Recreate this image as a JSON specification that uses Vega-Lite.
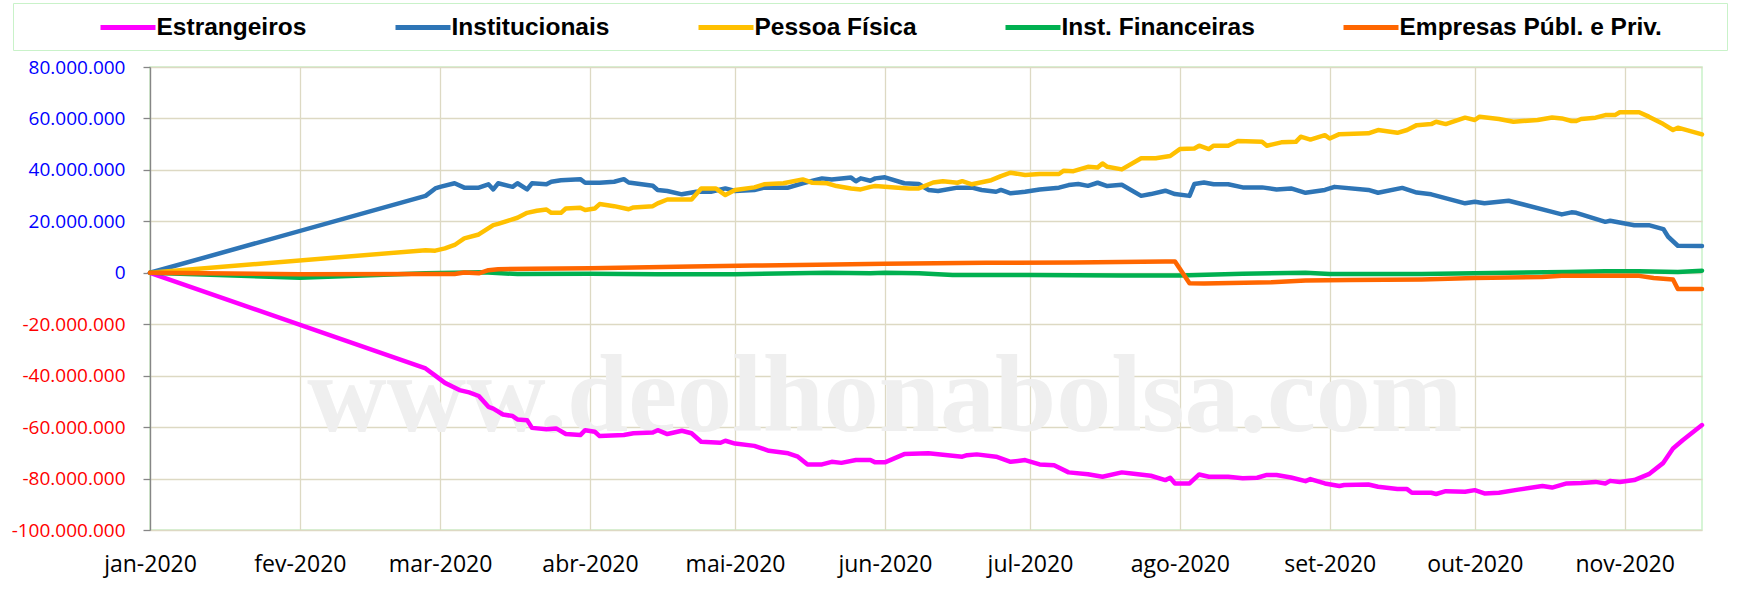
{
  "$schema": "https://vega.github.io/schema/vega-lite/v6.json",
  "width": 1552,
  "height": 463,
  "autosize": {"type": "none"},
  "padding": {"left": 150, "top": 67, "right": 40, "bottom": 59},
  "background": "white",
  "config": {
    "view": {"stroke": "#c9f2c9", "strokeWidth": 1.5},
    "font": "Open Sans"
  },
  "datasets": {
    "wm": [{"d": "2020-06-01", "v": -61500000, "t": "www.deolhonabolsa.com"}],
    "lines": [
      {"d": "2020-01-01", "s": "Estrangeiros", "v": 0},
      {"d": "2020-02-27", "s": "Estrangeiros", "v": -37200000},
      {"d": "2020-02-29", "s": "Estrangeiros", "v": -40000000},
      {"d": "2020-03-02", "s": "Estrangeiros", "v": -42800000},
      {"d": "2020-03-05", "s": "Estrangeiros", "v": -45600000},
      {"d": "2020-03-07", "s": "Estrangeiros", "v": -46500000},
      {"d": "2020-03-09", "s": "Estrangeiros", "v": -47900000},
      {"d": "2020-03-11", "s": "Estrangeiros", "v": -52100000},
      {"d": "2020-03-12", "s": "Estrangeiros", "v": -52800000},
      {"d": "2020-03-14", "s": "Estrangeiros", "v": -55100000},
      {"d": "2020-03-16", "s": "Estrangeiros", "v": -55700000},
      {"d": "2020-03-17", "s": "Estrangeiros", "v": -57000000},
      {"d": "2020-03-19", "s": "Estrangeiros", "v": -57300000},
      {"d": "2020-03-20", "s": "Estrangeiros", "v": -60300000},
      {"d": "2020-03-23", "s": "Estrangeiros", "v": -60800000},
      {"d": "2020-03-25", "s": "Estrangeiros", "v": -60500000},
      {"d": "2020-03-27", "s": "Estrangeiros", "v": -62700000},
      {"d": "2020-03-30", "s": "Estrangeiros", "v": -63100000},
      {"d": "2020-03-31", "s": "Estrangeiros", "v": -61200000},
      {"d": "2020-04-02", "s": "Estrangeiros", "v": -61800000},
      {"d": "2020-04-03", "s": "Estrangeiros", "v": -63500000},
      {"d": "2020-04-08", "s": "Estrangeiros", "v": -63100000},
      {"d": "2020-04-10", "s": "Estrangeiros", "v": -62400000},
      {"d": "2020-04-14", "s": "Estrangeiros", "v": -62100000},
      {"d": "2020-04-15", "s": "Estrangeiros", "v": -61200000},
      {"d": "2020-04-17", "s": "Estrangeiros", "v": -62700000},
      {"d": "2020-04-20", "s": "Estrangeiros", "v": -61400000},
      {"d": "2020-04-22", "s": "Estrangeiros", "v": -62400000},
      {"d": "2020-04-24", "s": "Estrangeiros", "v": -65700000},
      {"d": "2020-04-28", "s": "Estrangeiros", "v": -66100000},
      {"d": "2020-04-29", "s": "Estrangeiros", "v": -65300000},
      {"d": "2020-05-01", "s": "Estrangeiros", "v": -66400000},
      {"d": "2020-05-05", "s": "Estrangeiros", "v": -67300000},
      {"d": "2020-05-08", "s": "Estrangeiros", "v": -69200000},
      {"d": "2020-05-12", "s": "Estrangeiros", "v": -70200000},
      {"d": "2020-05-14", "s": "Estrangeiros", "v": -71500000},
      {"d": "2020-05-16", "s": "Estrangeiros", "v": -74500000},
      {"d": "2020-05-19", "s": "Estrangeiros", "v": -74500000},
      {"d": "2020-05-21", "s": "Estrangeiros", "v": -73500000},
      {"d": "2020-05-23", "s": "Estrangeiros", "v": -73900000},
      {"d": "2020-05-26", "s": "Estrangeiros", "v": -72800000},
      {"d": "2020-05-29", "s": "Estrangeiros", "v": -72800000},
      {"d": "2020-05-30", "s": "Estrangeiros", "v": -73700000},
      {"d": "2020-06-01", "s": "Estrangeiros", "v": -73700000},
      {"d": "2020-06-05", "s": "Estrangeiros", "v": -70500000},
      {"d": "2020-06-10", "s": "Estrangeiros", "v": -70200000},
      {"d": "2020-06-17", "s": "Estrangeiros", "v": -71500000},
      {"d": "2020-06-18", "s": "Estrangeiros", "v": -70900000},
      {"d": "2020-06-20", "s": "Estrangeiros", "v": -70600000},
      {"d": "2020-06-24", "s": "Estrangeiros", "v": -71500000},
      {"d": "2020-06-27", "s": "Estrangeiros", "v": -73500000},
      {"d": "2020-06-30", "s": "Estrangeiros", "v": -72800000},
      {"d": "2020-07-03", "s": "Estrangeiros", "v": -74500000},
      {"d": "2020-07-06", "s": "Estrangeiros", "v": -74800000},
      {"d": "2020-07-09", "s": "Estrangeiros", "v": -77600000},
      {"d": "2020-07-13", "s": "Estrangeiros", "v": -78300000},
      {"d": "2020-07-16", "s": "Estrangeiros", "v": -79300000},
      {"d": "2020-07-20", "s": "Estrangeiros", "v": -77600000},
      {"d": "2020-07-22", "s": "Estrangeiros", "v": -78000000},
      {"d": "2020-07-26", "s": "Estrangeiros", "v": -78900000},
      {"d": "2020-07-29", "s": "Estrangeiros", "v": -80600000},
      {"d": "2020-07-30", "s": "Estrangeiros", "v": -79700000},
      {"d": "2020-07-31", "s": "Estrangeiros", "v": -81900000},
      {"d": "2020-08-03", "s": "Estrangeiros", "v": -81900000},
      {"d": "2020-08-05", "s": "Estrangeiros", "v": -78400000},
      {"d": "2020-08-07", "s": "Estrangeiros", "v": -79300000},
      {"d": "2020-08-11", "s": "Estrangeiros", "v": -79300000},
      {"d": "2020-08-14", "s": "Estrangeiros", "v": -79900000},
      {"d": "2020-08-17", "s": "Estrangeiros", "v": -79700000},
      {"d": "2020-08-19", "s": "Estrangeiros", "v": -78600000},
      {"d": "2020-08-21", "s": "Estrangeiros", "v": -78600000},
      {"d": "2020-08-24", "s": "Estrangeiros", "v": -79600000},
      {"d": "2020-08-27", "s": "Estrangeiros", "v": -81000000},
      {"d": "2020-08-28", "s": "Estrangeiros", "v": -80200000},
      {"d": "2020-08-31", "s": "Estrangeiros", "v": -81900000},
      {"d": "2020-09-03", "s": "Estrangeiros", "v": -82900000},
      {"d": "2020-09-04", "s": "Estrangeiros", "v": -82500000},
      {"d": "2020-09-09", "s": "Estrangeiros", "v": -82300000},
      {"d": "2020-09-11", "s": "Estrangeiros", "v": -83200000},
      {"d": "2020-09-15", "s": "Estrangeiros", "v": -84100000},
      {"d": "2020-09-17", "s": "Estrangeiros", "v": -84100000},
      {"d": "2020-09-18", "s": "Estrangeiros", "v": -85500000},
      {"d": "2020-09-22", "s": "Estrangeiros", "v": -85500000},
      {"d": "2020-09-23", "s": "Estrangeiros", "v": -86000000},
      {"d": "2020-09-25", "s": "Estrangeiros", "v": -84900000},
      {"d": "2020-09-29", "s": "Estrangeiros", "v": -85100000},
      {"d": "2020-10-01", "s": "Estrangeiros", "v": -84500000},
      {"d": "2020-10-03", "s": "Estrangeiros", "v": -85800000},
      {"d": "2020-10-06", "s": "Estrangeiros", "v": -85500000},
      {"d": "2020-10-10", "s": "Estrangeiros", "v": -84300000},
      {"d": "2020-10-15", "s": "Estrangeiros", "v": -82900000},
      {"d": "2020-10-17", "s": "Estrangeiros", "v": -83500000},
      {"d": "2020-10-20", "s": "Estrangeiros", "v": -81900000},
      {"d": "2020-10-23", "s": "Estrangeiros", "v": -81700000},
      {"d": "2020-10-26", "s": "Estrangeiros", "v": -81300000},
      {"d": "2020-10-28", "s": "Estrangeiros", "v": -81900000},
      {"d": "2020-10-29", "s": "Estrangeiros", "v": -80900000},
      {"d": "2020-10-31", "s": "Estrangeiros", "v": -81300000},
      {"d": "2020-11-03", "s": "Estrangeiros", "v": -80600000},
      {"d": "2020-11-06", "s": "Estrangeiros", "v": -78300000},
      {"d": "2020-11-09", "s": "Estrangeiros", "v": -73900000},
      {"d": "2020-11-11", "s": "Estrangeiros", "v": -68300000},
      {"d": "2020-11-13", "s": "Estrangeiros", "v": -65100000},
      {"d": "2020-11-17", "s": "Estrangeiros", "v": -59200000},

      {"d": "2020-01-01", "s": "Institucionais", "v": 0},
      {"d": "2020-02-27", "s": "Institucionais", "v": 29900000},
      {"d": "2020-02-29", "s": "Institucionais", "v": 32800000},
      {"d": "2020-03-01", "s": "Institucionais", "v": 33400000},
      {"d": "2020-03-04", "s": "Institucionais", "v": 34800000},
      {"d": "2020-03-06", "s": "Institucionais", "v": 33100000},
      {"d": "2020-03-09", "s": "Institucionais", "v": 33100000},
      {"d": "2020-03-11", "s": "Institucionais", "v": 34400000},
      {"d": "2020-03-12", "s": "Institucionais", "v": 32400000},
      {"d": "2020-03-13", "s": "Institucionais", "v": 34800000},
      {"d": "2020-03-16", "s": "Institucionais", "v": 33400000},
      {"d": "2020-03-17", "s": "Institucionais", "v": 34800000},
      {"d": "2020-03-19", "s": "Institucionais", "v": 32400000},
      {"d": "2020-03-20", "s": "Institucionais", "v": 34800000},
      {"d": "2020-03-23", "s": "Institucionais", "v": 34400000},
      {"d": "2020-03-24", "s": "Institucionais", "v": 35400000},
      {"d": "2020-03-26", "s": "Institucionais", "v": 36000000},
      {"d": "2020-03-30", "s": "Institucionais", "v": 36400000},
      {"d": "2020-03-31", "s": "Institucionais", "v": 35000000},
      {"d": "2020-04-03", "s": "Institucionais", "v": 35000000},
      {"d": "2020-04-06", "s": "Institucionais", "v": 35400000},
      {"d": "2020-04-08", "s": "Institucionais", "v": 36400000},
      {"d": "2020-04-09", "s": "Institucionais", "v": 35100000},
      {"d": "2020-04-14", "s": "Institucionais", "v": 33800000},
      {"d": "2020-04-15", "s": "Institucionais", "v": 32200000},
      {"d": "2020-04-17", "s": "Institucionais", "v": 31800000},
      {"d": "2020-04-20", "s": "Institucionais", "v": 30500000},
      {"d": "2020-04-23", "s": "Institucionais", "v": 31500000},
      {"d": "2020-04-26", "s": "Institucionais", "v": 31500000},
      {"d": "2020-04-29", "s": "Institucionais", "v": 32800000},
      {"d": "2020-05-01", "s": "Institucionais", "v": 31800000},
      {"d": "2020-05-05", "s": "Institucionais", "v": 32200000},
      {"d": "2020-05-07", "s": "Institucionais", "v": 33100000},
      {"d": "2020-05-12", "s": "Institucionais", "v": 33100000},
      {"d": "2020-05-15", "s": "Institucionais", "v": 34800000},
      {"d": "2020-05-19", "s": "Institucionais", "v": 36700000},
      {"d": "2020-05-21", "s": "Institucionais", "v": 36300000},
      {"d": "2020-05-25", "s": "Institucionais", "v": 37000000},
      {"d": "2020-05-26", "s": "Institucionais", "v": 35600000},
      {"d": "2020-05-27", "s": "Institucionais", "v": 36700000},
      {"d": "2020-05-29", "s": "Institucionais", "v": 35800000},
      {"d": "2020-05-30", "s": "Institucionais", "v": 36700000},
      {"d": "2020-06-01", "s": "Institucionais", "v": 37100000},
      {"d": "2020-06-05", "s": "Institucionais", "v": 34800000},
      {"d": "2020-06-08", "s": "Institucionais", "v": 34500000},
      {"d": "2020-06-10", "s": "Institucionais", "v": 32200000},
      {"d": "2020-06-12", "s": "Institucionais", "v": 31800000},
      {"d": "2020-06-16", "s": "Institucionais", "v": 33100000},
      {"d": "2020-06-19", "s": "Institucionais", "v": 33100000},
      {"d": "2020-06-21", "s": "Institucionais", "v": 32200000},
      {"d": "2020-06-24", "s": "Institucionais", "v": 31500000},
      {"d": "2020-06-25", "s": "Institucionais", "v": 32200000},
      {"d": "2020-06-27", "s": "Institucionais", "v": 30900000},
      {"d": "2020-06-30", "s": "Institucionais", "v": 31500000},
      {"d": "2020-07-03", "s": "Institucionais", "v": 32400000},
      {"d": "2020-07-07", "s": "Institucionais", "v": 33100000},
      {"d": "2020-07-09", "s": "Institucionais", "v": 34100000},
      {"d": "2020-07-11", "s": "Institucionais", "v": 34500000},
      {"d": "2020-07-13", "s": "Institucionais", "v": 33800000},
      {"d": "2020-07-15", "s": "Institucionais", "v": 35000000},
      {"d": "2020-07-17", "s": "Institucionais", "v": 33700000},
      {"d": "2020-07-20", "s": "Institucionais", "v": 34200000},
      {"d": "2020-07-24", "s": "Institucionais", "v": 29900000},
      {"d": "2020-07-26", "s": "Institucionais", "v": 30600000},
      {"d": "2020-07-29", "s": "Institucionais", "v": 31900000},
      {"d": "2020-07-31", "s": "Institucionais", "v": 30600000},
      {"d": "2020-08-03", "s": "Institucionais", "v": 29900000},
      {"d": "2020-08-04", "s": "Institucionais", "v": 34500000},
      {"d": "2020-08-06", "s": "Institucionais", "v": 35100000},
      {"d": "2020-08-08", "s": "Institucionais", "v": 34400000},
      {"d": "2020-08-11", "s": "Institucionais", "v": 34400000},
      {"d": "2020-08-14", "s": "Institucionais", "v": 33200000},
      {"d": "2020-08-18", "s": "Institucionais", "v": 33200000},
      {"d": "2020-08-21", "s": "Institucionais", "v": 32400000},
      {"d": "2020-08-24", "s": "Institucionais", "v": 32800000},
      {"d": "2020-08-27", "s": "Institucionais", "v": 31100000},
      {"d": "2020-08-31", "s": "Institucionais", "v": 32200000},
      {"d": "2020-09-02", "s": "Institucionais", "v": 33400000},
      {"d": "2020-09-09", "s": "Institucionais", "v": 32200000},
      {"d": "2020-09-11", "s": "Institucionais", "v": 31100000},
      {"d": "2020-09-16", "s": "Institucionais", "v": 33000000},
      {"d": "2020-09-19", "s": "Institucionais", "v": 31200000},
      {"d": "2020-09-22", "s": "Institucionais", "v": 30500000},
      {"d": "2020-09-29", "s": "Institucionais", "v": 27000000},
      {"d": "2020-10-01", "s": "Institucionais", "v": 27600000},
      {"d": "2020-10-03", "s": "Institucionais", "v": 27000000},
      {"d": "2020-10-08", "s": "Institucionais", "v": 28000000},
      {"d": "2020-10-17", "s": "Institucionais", "v": 23700000},
      {"d": "2020-10-19", "s": "Institucionais", "v": 22700000},
      {"d": "2020-10-21", "s": "Institucionais", "v": 23500000},
      {"d": "2020-10-22", "s": "Institucionais", "v": 23300000},
      {"d": "2020-10-28", "s": "Institucionais", "v": 19800000},
      {"d": "2020-10-29", "s": "Institucionais", "v": 20200000},
      {"d": "2020-11-03", "s": "Institucionais", "v": 18500000},
      {"d": "2020-11-06", "s": "Institucionais", "v": 18500000},
      {"d": "2020-11-09", "s": "Institucionais", "v": 17000000},
      {"d": "2020-11-10", "s": "Institucionais", "v": 14000000},
      {"d": "2020-11-12", "s": "Institucionais", "v": 10500000},
      {"d": "2020-11-17", "s": "Institucionais", "v": 10400000},

      {"d": "2020-01-01", "s": "Pessoa Física", "v": 0},
      {"d": "2020-02-27", "s": "Pessoa Física", "v": 8800000},
      {"d": "2020-02-29", "s": "Pessoa Física", "v": 8600000},
      {"d": "2020-03-02", "s": "Pessoa Física", "v": 9500000},
      {"d": "2020-03-04", "s": "Pessoa Física", "v": 10800000},
      {"d": "2020-03-06", "s": "Pessoa Física", "v": 13400000},
      {"d": "2020-03-09", "s": "Pessoa Física", "v": 14900000},
      {"d": "2020-03-12", "s": "Pessoa Física", "v": 18500000},
      {"d": "2020-03-13", "s": "Pessoa Física", "v": 19000000},
      {"d": "2020-03-17", "s": "Pessoa Física", "v": 21400000},
      {"d": "2020-03-19", "s": "Pessoa Física", "v": 23300000},
      {"d": "2020-03-21", "s": "Pessoa Física", "v": 24100000},
      {"d": "2020-03-23", "s": "Pessoa Física", "v": 24600000},
      {"d": "2020-03-24", "s": "Pessoa Física", "v": 23300000},
      {"d": "2020-03-26", "s": "Pessoa Física", "v": 23300000},
      {"d": "2020-03-27", "s": "Pessoa Física", "v": 25000000},
      {"d": "2020-03-30", "s": "Pessoa Física", "v": 25300000},
      {"d": "2020-03-31", "s": "Pessoa Física", "v": 24400000},
      {"d": "2020-04-02", "s": "Pessoa Física", "v": 25000000},
      {"d": "2020-04-03", "s": "Pessoa Física", "v": 26700000},
      {"d": "2020-04-06", "s": "Pessoa Física", "v": 25900000},
      {"d": "2020-04-09", "s": "Pessoa Física", "v": 24700000},
      {"d": "2020-04-10", "s": "Pessoa Física", "v": 25400000},
      {"d": "2020-04-14", "s": "Pessoa Física", "v": 25900000},
      {"d": "2020-04-15", "s": "Pessoa Física", "v": 27000000},
      {"d": "2020-04-17", "s": "Pessoa Física", "v": 28500000},
      {"d": "2020-04-22", "s": "Pessoa Física", "v": 28500000},
      {"d": "2020-04-24", "s": "Pessoa Física", "v": 32800000},
      {"d": "2020-04-27", "s": "Pessoa Física", "v": 32800000},
      {"d": "2020-04-29", "s": "Pessoa Física", "v": 30200000},
      {"d": "2020-05-01", "s": "Pessoa Física", "v": 32200000},
      {"d": "2020-05-05", "s": "Pessoa Física", "v": 33200000},
      {"d": "2020-05-07", "s": "Pessoa Física", "v": 34400000},
      {"d": "2020-05-11", "s": "Pessoa Física", "v": 34800000},
      {"d": "2020-05-15", "s": "Pessoa Física", "v": 36300000},
      {"d": "2020-05-17", "s": "Pessoa Física", "v": 35000000},
      {"d": "2020-05-20", "s": "Pessoa Física", "v": 34800000},
      {"d": "2020-05-22", "s": "Pessoa Física", "v": 33700000},
      {"d": "2020-05-25", "s": "Pessoa Física", "v": 32800000},
      {"d": "2020-05-27", "s": "Pessoa Física", "v": 32400000},
      {"d": "2020-05-29", "s": "Pessoa Física", "v": 33400000},
      {"d": "2020-05-30", "s": "Pessoa Física", "v": 33700000},
      {"d": "2020-06-03", "s": "Pessoa Física", "v": 33200000},
      {"d": "2020-06-06", "s": "Pessoa Física", "v": 32800000},
      {"d": "2020-06-08", "s": "Pessoa Física", "v": 32800000},
      {"d": "2020-06-11", "s": "Pessoa Física", "v": 35100000},
      {"d": "2020-06-13", "s": "Pessoa Física", "v": 35600000},
      {"d": "2020-06-16", "s": "Pessoa Física", "v": 35000000},
      {"d": "2020-06-17", "s": "Pessoa Física", "v": 35600000},
      {"d": "2020-06-19", "s": "Pessoa Física", "v": 34400000},
      {"d": "2020-06-23", "s": "Pessoa Física", "v": 36000000},
      {"d": "2020-06-25", "s": "Pessoa Física", "v": 37600000},
      {"d": "2020-06-27", "s": "Pessoa Física", "v": 38900000},
      {"d": "2020-06-30", "s": "Pessoa Física", "v": 38000000},
      {"d": "2020-07-03", "s": "Pessoa Física", "v": 38400000},
      {"d": "2020-07-07", "s": "Pessoa Física", "v": 38400000},
      {"d": "2020-07-08", "s": "Pessoa Física", "v": 39700000},
      {"d": "2020-07-10", "s": "Pessoa Física", "v": 39500000},
      {"d": "2020-07-13", "s": "Pessoa Física", "v": 41200000},
      {"d": "2020-07-15", "s": "Pessoa Física", "v": 40900000},
      {"d": "2020-07-16", "s": "Pessoa Física", "v": 42500000},
      {"d": "2020-07-17", "s": "Pessoa Física", "v": 41200000},
      {"d": "2020-07-20", "s": "Pessoa Física", "v": 40200000},
      {"d": "2020-07-24", "s": "Pessoa Física", "v": 44500000},
      {"d": "2020-07-27", "s": "Pessoa Física", "v": 44500000},
      {"d": "2020-07-29", "s": "Pessoa Física", "v": 45100000},
      {"d": "2020-07-30", "s": "Pessoa Física", "v": 45400000},
      {"d": "2020-08-01", "s": "Pessoa Física", "v": 48100000},
      {"d": "2020-08-04", "s": "Pessoa Física", "v": 48300000},
      {"d": "2020-08-05", "s": "Pessoa Física", "v": 49400000},
      {"d": "2020-08-07", "s": "Pessoa Física", "v": 48100000},
      {"d": "2020-08-08", "s": "Pessoa Física", "v": 49400000},
      {"d": "2020-08-11", "s": "Pessoa Física", "v": 49400000},
      {"d": "2020-08-13", "s": "Pessoa Física", "v": 51200000},
      {"d": "2020-08-18", "s": "Pessoa Física", "v": 50900000},
      {"d": "2020-08-19", "s": "Pessoa Física", "v": 49400000},
      {"d": "2020-08-22", "s": "Pessoa Física", "v": 50700000},
      {"d": "2020-08-25", "s": "Pessoa Física", "v": 50900000},
      {"d": "2020-08-26", "s": "Pessoa Física", "v": 52900000},
      {"d": "2020-08-28", "s": "Pessoa Física", "v": 51800000},
      {"d": "2020-08-31", "s": "Pessoa Física", "v": 53500000},
      {"d": "2020-09-01", "s": "Pessoa Física", "v": 52200000},
      {"d": "2020-09-03", "s": "Pessoa Física", "v": 53900000},
      {"d": "2020-09-09", "s": "Pessoa Física", "v": 54200000},
      {"d": "2020-09-11", "s": "Pessoa Física", "v": 55500000},
      {"d": "2020-09-15", "s": "Pessoa Física", "v": 54400000},
      {"d": "2020-09-17", "s": "Pessoa Física", "v": 55500000},
      {"d": "2020-09-19", "s": "Pessoa Física", "v": 57400000},
      {"d": "2020-09-22", "s": "Pessoa Física", "v": 57800000},
      {"d": "2020-09-23", "s": "Pessoa Física", "v": 58700000},
      {"d": "2020-09-25", "s": "Pessoa Física", "v": 57800000},
      {"d": "2020-09-29", "s": "Pessoa Física", "v": 60300000},
      {"d": "2020-10-01", "s": "Pessoa Física", "v": 59400000},
      {"d": "2020-10-02", "s": "Pessoa Física", "v": 60700000},
      {"d": "2020-10-06", "s": "Pessoa Física", "v": 59800000},
      {"d": "2020-10-09", "s": "Pessoa Física", "v": 58700000},
      {"d": "2020-10-14", "s": "Pessoa Física", "v": 59400000},
      {"d": "2020-10-17", "s": "Pessoa Física", "v": 60400000},
      {"d": "2020-10-19", "s": "Pessoa Física", "v": 60000000},
      {"d": "2020-10-21", "s": "Pessoa Física", "v": 59000000},
      {"d": "2020-10-22", "s": "Pessoa Física", "v": 59000000},
      {"d": "2020-10-23", "s": "Pessoa Física", "v": 59800000},
      {"d": "2020-10-26", "s": "Pessoa Física", "v": 60300000},
      {"d": "2020-10-28", "s": "Pessoa Física", "v": 61300000},
      {"d": "2020-10-30", "s": "Pessoa Física", "v": 61300000},
      {"d": "2020-10-31", "s": "Pessoa Física", "v": 62400000},
      {"d": "2020-11-04", "s": "Pessoa Física", "v": 62400000},
      {"d": "2020-11-06", "s": "Pessoa Física", "v": 60700000},
      {"d": "2020-11-09", "s": "Pessoa Física", "v": 57800000},
      {"d": "2020-11-11", "s": "Pessoa Física", "v": 55500000},
      {"d": "2020-11-12", "s": "Pessoa Física", "v": 56400000},
      {"d": "2020-11-17", "s": "Pessoa Física", "v": 53800000},

      {"d": "2020-01-01", "s": "Inst. Financeiras", "v": 0},
      {"d": "2020-02-01", "s": "Inst. Financeiras", "v": -1900000},
      {"d": "2020-02-27", "s": "Inst. Financeiras", "v": -200000},
      {"d": "2020-03-10", "s": "Inst. Financeiras", "v": 200000},
      {"d": "2020-03-17", "s": "Inst. Financeiras", "v": -500000},
      {"d": "2020-04-01", "s": "Inst. Financeiras", "v": -400000},
      {"d": "2020-04-15", "s": "Inst. Financeiras", "v": -600000},
      {"d": "2020-05-01", "s": "Inst. Financeiras", "v": -600000},
      {"d": "2020-05-20", "s": "Inst. Financeiras", "v": 0},
      {"d": "2020-05-29", "s": "Inst. Financeiras", "v": -200000},
      {"d": "2020-06-01", "s": "Inst. Financeiras", "v": 0},
      {"d": "2020-06-08", "s": "Inst. Financeiras", "v": -200000},
      {"d": "2020-06-15", "s": "Inst. Financeiras", "v": -900000},
      {"d": "2020-07-01", "s": "Inst. Financeiras", "v": -900000},
      {"d": "2020-07-20", "s": "Inst. Financeiras", "v": -1100000},
      {"d": "2020-08-01", "s": "Inst. Financeiras", "v": -1100000},
      {"d": "2020-08-14", "s": "Inst. Financeiras", "v": -400000},
      {"d": "2020-08-27", "s": "Inst. Financeiras", "v": 0},
      {"d": "2020-09-01", "s": "Inst. Financeiras", "v": -500000},
      {"d": "2020-09-20", "s": "Inst. Financeiras", "v": -500000},
      {"d": "2020-10-01", "s": "Inst. Financeiras", "v": -200000},
      {"d": "2020-10-20", "s": "Inst. Financeiras", "v": 300000},
      {"d": "2020-10-28", "s": "Inst. Financeiras", "v": 600000},
      {"d": "2020-11-04", "s": "Inst. Financeiras", "v": 600000},
      {"d": "2020-11-12", "s": "Inst. Financeiras", "v": 300000},
      {"d": "2020-11-17", "s": "Inst. Financeiras", "v": 800000},

      {"d": "2020-01-01", "s": "Empresas Públ. e Priv.", "v": 0},
      {"d": "2020-02-01", "s": "Empresas Públ. e Priv.", "v": -600000},
      {"d": "2020-02-27", "s": "Empresas Públ. e Priv.", "v": -500000},
      {"d": "2020-03-04", "s": "Empresas Públ. e Priv.", "v": -500000},
      {"d": "2020-03-06", "s": "Empresas Públ. e Priv.", "v": 100000},
      {"d": "2020-03-09", "s": "Empresas Públ. e Priv.", "v": -200000},
      {"d": "2020-03-11", "s": "Empresas Públ. e Priv.", "v": 1000000},
      {"d": "2020-03-13", "s": "Empresas Públ. e Priv.", "v": 1400000},
      {"d": "2020-03-20", "s": "Empresas Públ. e Priv.", "v": 1600000},
      {"d": "2020-04-01", "s": "Empresas Públ. e Priv.", "v": 1800000},
      {"d": "2020-04-22", "s": "Empresas Públ. e Priv.", "v": 2400000},
      {"d": "2020-05-05", "s": "Empresas Públ. e Priv.", "v": 2800000},
      {"d": "2020-05-18", "s": "Empresas Públ. e Priv.", "v": 3100000},
      {"d": "2020-06-01", "s": "Empresas Públ. e Priv.", "v": 3500000},
      {"d": "2020-06-22", "s": "Empresas Públ. e Priv.", "v": 3900000},
      {"d": "2020-07-10", "s": "Empresas Públ. e Priv.", "v": 4000000},
      {"d": "2020-07-29", "s": "Empresas Públ. e Priv.", "v": 4400000},
      {"d": "2020-07-31", "s": "Empresas Públ. e Priv.", "v": 4400000},
      {"d": "2020-08-03", "s": "Empresas Públ. e Priv.", "v": -4100000},
      {"d": "2020-08-06", "s": "Empresas Públ. e Priv.", "v": -4200000},
      {"d": "2020-08-20", "s": "Empresas Públ. e Priv.", "v": -3700000},
      {"d": "2020-08-27", "s": "Empresas Públ. e Priv.", "v": -3000000},
      {"d": "2020-09-05", "s": "Empresas Públ. e Priv.", "v": -2800000},
      {"d": "2020-09-20", "s": "Empresas Públ. e Priv.", "v": -2600000},
      {"d": "2020-10-01", "s": "Empresas Públ. e Priv.", "v": -2000000},
      {"d": "2020-10-15", "s": "Empresas Públ. e Priv.", "v": -1600000},
      {"d": "2020-10-19", "s": "Empresas Públ. e Priv.", "v": -1200000},
      {"d": "2020-11-04", "s": "Empresas Públ. e Priv.", "v": -1200000},
      {"d": "2020-11-07", "s": "Empresas Públ. e Priv.", "v": -2000000},
      {"d": "2020-11-11", "s": "Empresas Públ. e Priv.", "v": -2600000},
      {"d": "2020-11-12", "s": "Empresas Públ. e Priv.", "v": -6300000},
      {"d": "2020-11-17", "s": "Empresas Públ. e Priv.", "v": -6300000}
    ]
  },
  "encoding": {
    "x": {
      "field": "d",
      "type": "temporal",
      "scale": {
        "type": "utc",
        "nice": false,
        "domain": [
          {"year": 2020, "month": 1, "date": 1, "utc": true},
          {"year": 2020, "month": 11, "date": 17, "utc": true}
        ]
      },
      "axis": {
        "title": null,
        "values": [
          {"year": 2020, "month": 1, "date": 1, "utc": true},
          {"year": 2020, "month": 2, "date": 1, "utc": true},
          {"year": 2020, "month": 3, "date": 1, "utc": true},
          {"year": 2020, "month": 4, "date": 1, "utc": true},
          {"year": 2020, "month": 5, "date": 1, "utc": true},
          {"year": 2020, "month": 6, "date": 1, "utc": true},
          {"year": 2020, "month": 7, "date": 1, "utc": true},
          {"year": 2020, "month": 8, "date": 1, "utc": true},
          {"year": 2020, "month": 9, "date": 1, "utc": true},
          {"year": 2020, "month": 10, "date": 1, "utc": true},
          {"year": 2020, "month": 11, "date": 1, "utc": true}
        ],
        "labelExpr": "['jan','fev','mar','abr','mai','jun','jul','ago','set','out','nov','dez'][utcmonth(datum.value)] + '-' + utcyear(datum.value)",
        "grid": true,
        "gridColor": "#ddd9c3",
        "gridWidth": 1.3,
        "ticks": false,
        "domain": false,
        "labelFont": "Open Sans",
        "labelFontSize": 23,
        "labelColor": "#000000",
        "labelPadding": 23,
        "labelAngle": 0,
        "labelOverlap": false,
        "labelFlush": false
      }
    },
    "y": {
      "field": "v",
      "type": "quantitative",
      "scale": {"domain": [-100000000, 80000000], "nice": false, "zero": false},
      "axis": {
        "title": null,
        "values": [-100000000, -80000000, -60000000, -40000000, -20000000, 0, 20000000, 40000000, 60000000, 80000000],
        "labelExpr": "datum.value == 0 ? '0' : (datum.value < 0 ? '-' : '') + (abs(datum.value) / 1000000) + '.000.000'",
        "grid": true,
        "gridColor": "#ddd9c3",
        "gridWidth": 1.3,
        "domain": true,
        "domainColor": "#868686",
        "domainWidth": 1.3,
        "ticks": true,
        "tickSize": 7,
        "tickColor": "#868686",
        "tickWidth": 1.3,
        "labelFont": "Open Sans",
        "labelFontSize": 19,
        "labelColor": {"expr": "datum.value < 0 ? '#ff0000' : '#0000ff'"},
        "labelPadding": 18,
        "labelOverlap": false,
        "labelFlush": false
      }
    }
  },
  "layer": [
    {
      "data": {"name": "wm"},
      "mark": {
        "type": "text",
        "font": "Liberation Serif",
        "fontWeight": "bold",
        "fontSize": 110,
        "color": "#efefef",
        "align": "center",
        "baseline": "alphabetic"
      },
      "encoding": {"text": {"field": "t"}}
    },
    {
      "data": {"name": "lines"},
      "mark": {"type": "line", "strokeWidth": 4.5, "strokeCap": "round", "strokeJoin": "round"},
      "encoding": {
        "color": {
          "field": "s",
          "type": "nominal",
          "sort": null,
          "scale": {
            "domain": ["Estrangeiros", "Institucionais", "Pessoa Física", "Inst. Financeiras", "Empresas Públ. e Priv."],
            "range": ["#ff00ff", "#2e75b6", "#ffc000", "#00b050", "#ff6600"]
          },
          "legend": {
            "orient": "none",
            "legendX": -137,
            "legendY": -64,
            "direction": "horizontal",
            "title": "\u00a0",
            "titleOrient": "left",
            "titleFontSize": 2,
            "titlePadding": 74,
            "symbolType": "M-2.5,0H2.5",
            "symbolSize": 484,
            "symbolOffset": 16.5,
            "symbolStrokeWidth": 5,
            "labelFont": "Liberation Sans",
            "labelFontWeight": "bold",
            "labelFontSize": 24.5,
            "labelColor": "#000000",
            "labelOffset": 15,
            "labelLimit": 0,
            "columnPadding": 78,
            "padding": 11,
            "strokeColor": "#c9f2c9",
            "fillColor": "#ffffff",
            "labelExpr": "datum.label == 'Empresas Públ. e Priv.' ? datum.label + '\u2800\u2800\u2800' : datum.label"
          }
        },
        "detail": {"field": "s"}
      }
    }
  ]
}
